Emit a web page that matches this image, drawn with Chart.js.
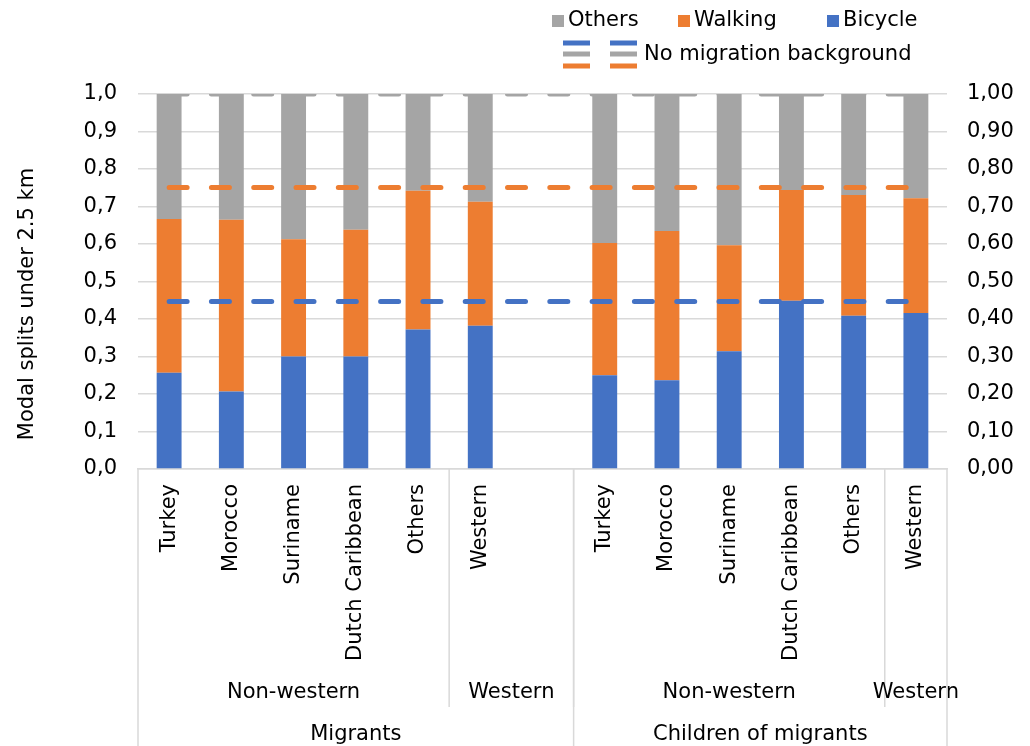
<!DOCTYPE html>
<html>
<head>
<meta charset="utf-8">
<title>Modal splits under 2.5 km</title>
<script src="https://cdn.jsdelivr.net/npm/chart.js@4/dist/chart.umd.min.js"></script>
<style>
    body { margin: 0; background: #fff; }
    #wrap { width: 1030px; height: 746px; }
</style>
</head>
<body>
<div id="wrap"><canvas id="chart" width="1030" height="746"></canvas></div>
<script>
// Chart data
const categories = ['Turkey', 'Morocco', 'Suriname', 'Dutch Caribbean', 'Others', 'Western', '',
    'Turkey', 'Morocco', 'Suriname', 'Dutch Caribbean', 'Others', 'Western'];
const bicycle = [0.257, 0.207, 0.300, 0.300, 0.372, 0.382, null, 0.250, 0.237, 0.314, 0.449, 0.409, 0.416];
const walking = [0.410, 0.458, 0.313, 0.338, 0.370, 0.331, null, 0.353, 0.398, 0.283, 0.295, 0.322, 0.306];
const others  = [0.333, 0.335, 0.387, 0.362, 0.258, 0.287, null, 0.397, 0.365, 0.403, 0.256, 0.269, 0.278];

// No migration background (cumulative levels of the reference lines)
const noMigrationBicycle = 0.447;
const noMigrationWalking = 0.751;
const noMigrationOthers = 1.0;

// Axis groups
const subGroupLabels = ['Non-western', 'Western', 'Non-western', 'Western'];
const subGroupSpans = [5, 2, 5, 1];
const mainGroupLabels = ['Migrants', 'Children of migrants'];
const mainGroupSpans = [7, 6];

const leftTicks = [0, 0.1, 0.2, 0.3, 0.4, 0.5, 0.6, 0.7, 0.8, 0.9, 1.0];

const BLUE = '#4472C4';
const ORANGE = '#ED7D31';
const GREY = '#A5A5A5';
const LINE = '#d9d9d9';
const FONT = "'DejaVu Sans', Verdana, sans-serif";

Chart.defaults.font.family = FONT;
Chart.defaults.font.size = 21;
Chart.defaults.color = '#000';

function refLine(value, color) {
    return {
        type: 'line',
        label: 'No migration background',
        data: categories.map(function() { return value; }),
        yAxisID: 'y2',
        borderColor: color,
        borderWidth: 5,
        borderDash: [18, 24.3],
        borderCapStyle: 'round',
        pointRadius: 0,
        fill: false,
        clip: 0,
        order: 0
    };
}

// Legend, axis title and the grouped category levels
const overlay = {
    id: 'overlay',
    afterDraw: function(chart) {
        const ctx = chart.ctx;
        const area = chart.chartArea;
        const xs = chart.scales.x;
        ctx.save();
        ctx.font = '21px ' + FONT;
        ctx.fillStyle = '#000';
        ctx.textBaseline = 'middle';

        // legend row 1
        const items = [[GREY, 'Others', 552], [ORANGE, 'Walking', 678], [BLUE, 'Bicycle', 827]];
        items.forEach(function(it) {
            ctx.fillStyle = it[0];
            ctx.fillRect(it[2], 15, 12, 12);
            ctx.fillStyle = '#000';
            ctx.textAlign = 'left';
            ctx.fillText(it[1], it[2] + 16, 21);
        });
        // legend row 2
        [563, 610].forEach(function(x0) {
            [[BLUE, 43], [GREY, 54], [ORANGE, 66]].forEach(function(l) {
                ctx.fillStyle = l[0];
                ctx.fillRect(x0, l[1] - 2.5, 27, 5);
            });
        });
        ctx.fillStyle = '#000';
        ctx.fillText('No migration background', 644, 55);

        // y axis title
        ctx.save();
        ctx.translate(28, 304);
        ctx.rotate(-Math.PI / 2);
        ctx.textAlign = 'center';
        ctx.fillText('Modal splits under 2.5 km', 0, 0);
        ctx.restore();

        // group levels
        function edge(i) {
            if (i <= 0) return area.left;
            if (i >= categories.length) return area.right;
            return (xs.getPixelForValue(i - 1) + xs.getPixelForValue(i)) / 2;
        }
        ctx.strokeStyle = LINE;
        ctx.lineWidth = 1.5;
        ctx.textAlign = 'center';
        let start = 0;
        subGroupSpans.forEach(function(span, k) {
            const a = edge(start), b = edge(start + span);
            ctx.fillText(subGroupLabels[k], (a + b) / 2, 693);
            start += span;
            if (start < categories.length) {
                ctx.beginPath();
                ctx.moveTo(b, area.bottom);
                ctx.lineTo(b, 707);
                ctx.stroke();
            }
        });
        start = 0;
        ctx.beginPath();
        ctx.moveTo(area.left, area.bottom);
        ctx.lineTo(area.left, chart.height);
        ctx.stroke();
        mainGroupSpans.forEach(function(span, k) {
            const a = edge(start), b = edge(start + span);
            ctx.fillText(mainGroupLabels[k], (a + b) / 2, 735);
            start += span;
            ctx.beginPath();
            ctx.moveTo(b, area.bottom);
            ctx.lineTo(b, chart.height);
            ctx.stroke();
        });
        ctx.restore();
    }
};

new Chart(document.getElementById('chart'), {
    type: 'bar',
    data: {
        labels: categories,
        datasets: [
            refLine(noMigrationBicycle, BLUE),
            refLine(noMigrationWalking, ORANGE),
            refLine(noMigrationOthers, GREY),
            { label: 'Bicycle', data: bicycle, backgroundColor: BLUE, order: 1 },
            { label: 'Walking', data: walking, backgroundColor: ORANGE, order: 1 },
            { label: 'Others', data: others, backgroundColor: GREY, order: 1 }
        ]
    },
    options: {
        responsive: false,
        animation: false,
        layout: { padding: { top: 94, left: 0, right: 0, bottom: 0 } },
        datasets: { bar: { categoryPercentage: 1, barPercentage: 0.4 } },
        plugins: { legend: { display: false }, tooltip: { enabled: false } },
        scales: {
            x: {
                stacked: true,
                grid: { display: false, drawTicks: false },
                border: { color: LINE, width: 1.5 },
                ticks: { autoSkip: false, minRotation: 90, maxRotation: 90, padding: 15 },
                afterFit: function(scale) { scale.height = 277; }
            },
            y: {
                stacked: true,
                min: 0,
                max: 1,
                grid: { color: LINE, lineWidth: 1.5, drawTicks: false },
                border: { display: false },
                afterBuildTicks: function(scale) {
                    scale.ticks = leftTicks.map(function(v) { return { value: v }; });
                },
                ticks: {
                    padding: 21,
                    callback: function(v) { return v.toFixed(1).replace('.', ','); }
                },
                afterFit: function(scale) { scale.width = 138; }
            },
            y2: {
                position: 'right',
                min: 0,
                max: 1,
                grid: { display: false, drawTicks: false },
                border: { display: false },
                afterBuildTicks: function(scale) {
                    scale.ticks = leftTicks.map(function(v) { return { value: v }; });
                },
                ticks: {
                    padding: 20,
                    callback: function(v) { return v.toFixed(2).replace('.', ','); }
                },
                afterFit: function(scale) { scale.width = 83; }
            }
        }
    },
    plugins: [overlay]
});
</script>
</body>
</html>
